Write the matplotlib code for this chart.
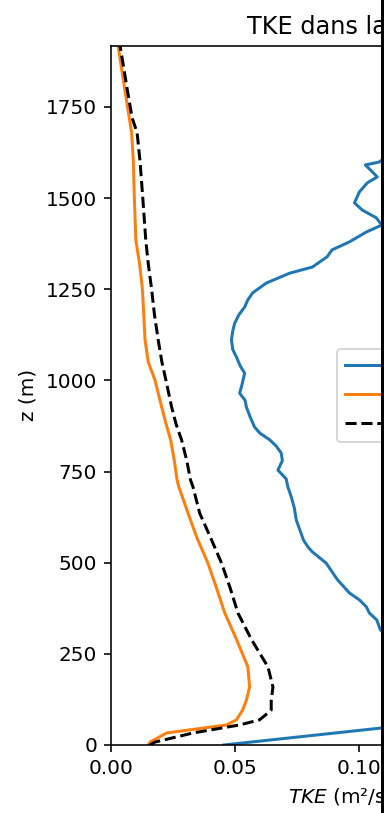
import matplotlib.pyplot as plt
from matplotlib.patches import Rectangle

# profils : (altitude z en m, TKE en m2/s2)
z_res = [0, 46, 80, 120, 160, 200, 250, 290, 315, 343, 362, 379, 398, 417, 453,
         499, 530, 543, 562, 617, 650, 680, 708, 730, 754, 780, 801, 820, 837, 855,
         872, 900, 927, 945, 965, 990, 1020, 1040, 1064, 1085, 1111, 1135, 1157,
         1180, 1201, 1220, 1240, 1267, 1294, 1311, 1339, 1358, 1380, 1407, 1426,
         1446, 1467, 1487, 1517, 1542, 1558, 1572, 1591, 1599, 1650, 1750, 1850, 1920]
tke_res = [0.0454, 0.108, 0.140, 0.152, 0.148, 0.138, 0.125, 0.114, 0.1085, 0.107,
           0.104, 0.1028, 0.100, 0.096, 0.0912, 0.0866, 0.0810, 0.0793, 0.0775,
           0.0746, 0.0738, 0.0726, 0.0712, 0.0705, 0.0672, 0.0690, 0.0685, 0.0665,
           0.0639, 0.0600, 0.0578, 0.0560, 0.0545, 0.0540, 0.0518, 0.0528, 0.0538,
           0.0520, 0.0505, 0.0490, 0.0485, 0.0490, 0.0498, 0.0515, 0.0538, 0.0550,
           0.0570, 0.0625, 0.0719, 0.0811, 0.0870, 0.0890, 0.0960, 0.1028, 0.1090,
           0.1068, 0.1012, 0.0980, 0.1000, 0.1032, 0.1072, 0.1052, 0.1024, 0.1080,
           0.118, 0.125, 0.130, 0.132]

z_sm = [0, 8, 33, 55, 69, 96, 123, 159, 214, 290, 362, 430, 499, 570, 636, 708,
        727, 780, 837, 880, 927, 1001, 1050, 1111, 1180, 1253, 1320, 1385, 1500,
        1600, 1679, 1800, 1920]
tke_sm = [0.0150, 0.0157, 0.0224, 0.0465, 0.0505, 0.0530, 0.0545, 0.0558, 0.0551,
          0.0505, 0.0458, 0.0425, 0.0390, 0.0345, 0.0310, 0.0273, 0.0266, 0.0255,
          0.0240, 0.0222, 0.0204, 0.0177, 0.0150, 0.0137, 0.0132, 0.0126, 0.0115,
          0.0100, 0.0094, 0.0090, 0.0083, 0.0055, 0.0028]

z_tot = [0, 8, 33, 55, 69, 88, 96, 123, 159, 214, 290, 362, 430, 499, 570, 636,
         708, 727, 780, 837, 880, 927, 1001, 1050, 1111, 1180, 1253, 1320, 1385,
         1500, 1600, 1680, 1720, 1800, 1920]
tke_tot = [0.0157, 0.0177, 0.0330, 0.0518, 0.0598, 0.0632, 0.0645, 0.0645, 0.0652,
           0.0632, 0.0565, 0.0511, 0.0480, 0.0445, 0.0400, 0.0357, 0.0330, 0.0320,
           0.0305, 0.0284, 0.0262, 0.0244, 0.0221, 0.0205, 0.0190, 0.0175, 0.0163,
           0.0150, 0.0140, 0.0128, 0.0117, 0.0105, 0.0085, 0.0065, 0.0036]

fig = plt.figure(figsize=(384 / 144, 813 / 144), dpi=144)
ax = fig.add_axes([111 / 384, 68 / 813, 466 / 384, 699.3 / 813])

ax.plot(tke_res, z_res, label='TKE résolue')
ax.plot(tke_sm, z_sm, label='TKE sous-maille')
ax.plot(tke_tot, z_tot, 'k--', label='TKE totale')

ax.set_xlim(0, 0.1876)
ax.set_ylim(0, 1918)
ax.set_xlabel('$TKE$ (m²/s²)')
ax.set_ylabel('z (m)')
ax.set_title('TKE dans la CLA')
ax.legend(loc='center right')

# bande sombre au bord droit de la capture
fig.patches.append(Rectangle((381 / 384, 0), 3 / 384, 1, transform=fig.transFigure,
                             facecolor='black', edgecolor='none', zorder=10))

fig.savefig('out.png', dpi=144)
